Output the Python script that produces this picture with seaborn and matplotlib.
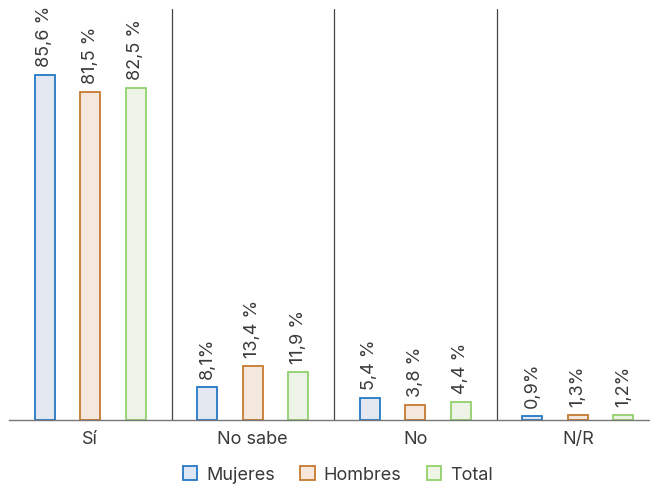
import pandas as pd
import matplotlib.pyplot as plt
import seaborn as sns
from matplotlib.patches import Patch

# data
categories = ["Sí", "No sabe", "No", "N/R"]
series = ["Mujeres", "Hombres", "Total"]
mujeres = [85.6, 8.1, 5.4, 0.9]
hombres = [81.5, 13.4, 3.8, 1.3]
total = [82.5, 11.9, 4.4, 1.2]
labels_mujeres = ["85,6 %", "8,1%", "5,4 %", "0,9%"]
labels_hombres = ["81,5 %", "13,4 %", "3,8 %", "1,3%"]
labels_total = ["82,5 %", "11,9 %", "4,4 %", "1,2%"]

edge_colors = ["#2478c4", "#c67a30", "#93d06c"]
face_colors = ["#dfe6f3", "#f7e7da", "#eef5e5"]

df = pd.DataFrame({
    "categoria": categories * 3,
    "serie": [s for s in series for _ in categories],
    "valor": mujeres + hombres + total,
})

sns.set_style("white")
plt.rcParams["font.family"] = ["Inter", "DejaVu Sans"]

fig = plt.figure(figsize=(6.5, 4.85), dpi=100)
ax = fig.add_axes([9 / 650, 64 / 485, 650 / 650, 411 / 485])

sns.barplot(data=df, x="categoria", y="valor", hue="serie",
            order=categories, hue_order=series, width=0.84, gap=0.55,
            palette=face_colors, legend=False, ax=ax)

all_labels = [labels_mujeres, labels_hombres, labels_total]
for container, ec, labs in zip(ax.containers, edge_colors, all_labels):
    for bar in container:
        bar.set_edgecolor(ec)
        bar.set_linewidth(1.3)
    ax.bar_label(container, labels=labs, rotation=90, padding=6.5,
                 fontsize=13, color="#3a3a3a")

ax.set_ylim(0, 102)
ax.set_xlim(-0.5, 3.5)
for x in [0.5, 1.5, 2.5]:
    ax.axvline(x, color="#444444", linewidth=0.9)

for side in ["top", "right", "left"]:
    ax.spines[side].set_visible(False)
ax.spines["bottom"].set_color("#777777")
ax.spines["bottom"].set_linewidth(1.0)
ax.set_yticks([])
ax.set_xlabel("")
ax.set_ylabel("")
ax.tick_params(axis="x", length=0, pad=7, labelsize=13, labelcolor="#3a3a3a")

handles = [Patch(facecolor=fc, edgecolor=ec, linewidth=1.3)
           for fc, ec in zip(face_colors, edge_colors)]
fig.legend(handles, series, loc="center", bbox_to_anchor=(0.52, 0.02),
           ncol=3, frameon=False, fontsize=13, handlelength=0.8,
           handleheight=0.8, handletextpad=0.5, columnspacing=1.4,
           labelcolor="#3a3a3a")

fig.savefig("out.png", dpi=100)
